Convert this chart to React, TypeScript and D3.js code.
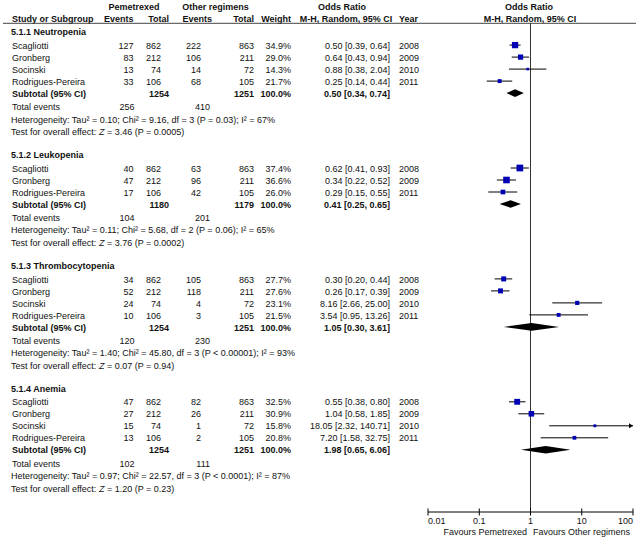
import React from "react";
import * as d3 from "d3";

const groupNames = ["5.1.1 Neutropenia", "5.1.2 Leukopenia", "5.1.3 Thrombocytopenia", "5.1.4 Anemia"];
const studyGroup = [0, 0, 0, 0, 1, 1, 1, 2, 2, 2, 2, 3, 3, 3, 3];
const studyNames = [
  "Scagliotti", "Gronberg", "Socinski", "Rodrigues-Pereira",
  "Scagliotti", "Gronberg", "Rodrigues-Pereira",
  "Scagliotti", "Gronberg", "Socinski", "Rodrigues-Pereira",
  "Scagliotti", "Gronberg", "Socinski", "Rodrigues-Pereira",
];
const pemEvents = [127, 83, 13, 33, 40, 47, 17, 34, 52, 24, 10, 47, 27, 15, 13];
const pemTotal = [862, 212, 74, 106, 862, 212, 106, 862, 212, 74, 106, 862, 212, 74, 106];
const othEvents = [222, 106, 14, 68, 63, 96, 42, 105, 118, 4, 3, 82, 26, 1, 2];
const othTotal = [863, 211, 72, 105, 863, 211, 105, 863, 211, 72, 105, 863, 211, 72, 105];
const weights = [34.9, 29.0, 14.3, 21.7, 37.4, 36.6, 26.0, 27.7, 27.6, 23.1, 21.5, 32.5, 30.9, 15.8, 20.8];
const oddsRatio = [0.5, 0.64, 0.88, 0.25, 0.62, 0.34, 0.29, 0.3, 0.26, 8.16, 3.54, 0.55, 1.04, 18.05, 7.2];
const ciLower = [0.39, 0.43, 0.38, 0.14, 0.41, 0.22, 0.15, 0.2, 0.17, 2.66, 0.95, 0.38, 0.58, 2.32, 1.58];
const ciUpper = [0.64, 0.94, 2.04, 0.44, 0.93, 0.52, 0.55, 0.44, 0.39, 25.0, 13.26, 0.8, 1.85, 140.71, 32.75];
const years = [2008, 2009, 2010, 2011, 2008, 2009, 2011, 2008, 2009, 2010, 2011, 2008, 2009, 2010, 2011];

const subPemTotal = [1254, 1180, 1254, 1254];
const subOthTotal = [1251, 1179, 1251, 1251];
const subOR = [0.5, 0.41, 1.05, 1.98];
const subLower = [0.34, 0.25, 0.3, 0.65];
const subUpper = [0.74, 0.65, 3.61, 6.06];
const totalPemEvents = [256, 104, 120, 102];
const totalOthEvents = [410, 201, 230, 111];
const heterogeneity = [
  "Heterogeneity: Tau² = 0.10; Chi² = 9.16, df = 3 (P = 0.03); I² = 67%",
  "Heterogeneity: Tau² = 0.11; Chi² = 5.68, df = 2 (P = 0.06); I² = 65%",
  "Heterogeneity: Tau² = 1.40; Chi² = 45.80, df = 3 (P < 0.00001); I² = 93%",
  "Heterogeneity: Tau² = 0.97; Chi² = 22.57, df = 3 (P < 0.0001); I² = 87%",
];
const overallZ = [
  "= 3.46 (P = 0.0005)",
  "= 3.76 (P = 0.0002)",
  "= 0.07 (P = 0.94)",
  "= 1.20 (P = 0.23)",
];
const axisTicks = [0.01, 0.1, 1, 10, 100];
const axisTickLabels = ["0.01", "0.1", "1", "10", "100"];

const W = 643;
const H = 539;
const FONT = "'Liberation Sans', Arial, sans-serif";
const FS = 9;
const TEXT = "#111";
const BLUE = "#0000b4";

const x = d3.scaleLog().domain([0.01, 100]).range([428, 633]);
const boxSize = d3.scaleLinear().domain([0, 100]).range([0, 18]);
const f2 = d3.format(".2f");
const f1 = d3.format(".1f");
const orText = (o: number, l: number, u: number) => `${f2(o)} [${f2(l)}, ${f2(u)}]`;

function buildLayout() {
  let y = 32.3;
  const groups: any[] = [];
  groupNames.forEach((g, gi) => {
    const titleY = y;
    const idx = studyGroup.map((s, i) => (s === gi ? i : -1)).filter((i) => i >= 0);
    const sy = titleY + 13.3;
    const studies = idx.map((i, k) => ({ i, y: sy + k * 12 }));
    const subY = studies[studies.length - 1].y + 12;
    const totY = subY + 13.5;
    const hetY = totY + 12.3;
    const testY = hetY + 12.3;
    groups.push({ gi, titleY, studies, subY, totY, hetY, testY });
    y = testY + 23.5;
  });
  return groups;
}
const layout = buildLayout();

const AXIS_Y = 512;
const HEADER_LINE_Y = 23.3;

function T(props: any) {
  const { children, bold, anchor, ...rest } = props;
  return (
    <text
      fontFamily={FONT}
      fontSize={FS}
      fill={TEXT}
      fontWeight={bold ? "bold" : "normal"}
      textAnchor={anchor || "start"}
      dy="0.35em"
      {...rest}
    >
      {children}
    </text>
  );
}

function CI({ lo, hi, y }: { lo: number; hi: number; y: number }) {
  const [d0, d1] = x.domain();
  const x0 = x(Math.max(lo, d0));
  const x1 = x(Math.min(hi, d1));
  return (
    <g>
      <line x1={x0} x2={x1} y1={y} y2={y} stroke="#000" strokeWidth={1} />
      {hi > d1 && (
        <path d={`M${x1},${y} L${x1 - 4},${y - 2.5} L${x1 - 4},${y + 2.5} Z`} fill="#000" />
      )}
      {lo < d0 && (
        <path d={`M${x0},${y} L${x0 + 4},${y - 2.5} L${x0 + 4},${y + 2.5} Z`} fill="#000" />
      )}
    </g>
  );
}

export default function App() {
  return (
    <svg
      width={W}
      height={H}
      viewBox={`0 0 ${W} ${H}`}
      style={{ position: "absolute", left: 0, top: 0, display: "block", background: "#fff" }}
    >
      <rect width={W} height={H} fill="#fff" />
      <T x={134} y={7.3} bold anchor="middle">Pemetrexed</T>
      <T x={215.5} y={7.3} bold anchor="middle">Other regimens</T>
      <T x={342} y={7.3} bold anchor="middle">Odds Ratio</T>
      <T x={529} y={7.3} bold anchor="middle">Odds Ratio</T>
      <T x={12} y={19} bold>Study or Subgroup</T>
      <T x={133.5} y={19} bold anchor="end">Events</T>
      <T x={169} y={19} bold anchor="end">Total</T>
      <T x={212} y={19} bold anchor="end">Events</T>
      <T x={254} y={19} bold anchor="end">Total</T>
      <T x={291} y={19} bold anchor="end">Weight</T>
      <T x={346} y={19} bold anchor="middle">M-H, Random, 95% CI</T>
      <T x={399} y={19} bold>Year</T>
      <T x={530} y={19} bold anchor="middle">M-H, Random, 95% CI</T>
      <line x1={3} x2={636} y1={HEADER_LINE_Y} y2={HEADER_LINE_Y} stroke="#444" strokeWidth={1} />

      <line x1={x(1)} x2={x(1)} y1={HEADER_LINE_Y} y2={AXIS_Y} stroke="#333" strokeWidth={1} />

      {layout.map((g: any) => (
        <g key={g.gi}>
          <T x={11} y={g.titleY} bold>{groupNames[g.gi]}</T>
          {g.studies.map(({ i, y }: any) => {
            const s = boxSize(weights[i]);
            return (
              <g key={i}>
                <T x={12} y={y}>{studyNames[i]}</T>
                <T x={133.5} y={y} anchor="end">{pemEvents[i]}</T>
                <T x={161} y={y} anchor="end">{pemTotal[i]}</T>
                <T x={201} y={y} anchor="end">{othEvents[i]}</T>
                <T x={254} y={y} anchor="end">{othTotal[i]}</T>
                <T x={291} y={y} anchor="end">{f1(weights[i]) + "%"}</T>
                <T x={390} y={y} anchor="end">{orText(oddsRatio[i], ciLower[i], ciUpper[i])}</T>
                <T x={399} y={y}>{years[i]}</T>
                <CI lo={ciLower[i]} hi={ciUpper[i]} y={y - 0.5} />
                <rect x={x(oddsRatio[i]) - s / 2} y={y - 0.5 - s / 2} width={s} height={s} fill={BLUE} />
              </g>
            );
          })}
          <T x={12} y={g.subY} bold>Subtotal (95% CI)</T>
          <T x={169} y={g.subY} bold anchor="end">{subPemTotal[g.gi]}</T>
          <T x={254} y={g.subY} bold anchor="end">{subOthTotal[g.gi]}</T>
          <T x={291} y={g.subY} bold anchor="end">100.0%</T>
          <T x={390} y={g.subY} bold anchor="end">{orText(subOR[g.gi], subLower[g.gi], subUpper[g.gi])}</T>
          <path
            d={`M${x(subLower[g.gi])},${g.subY - 0.5} L${x(subOR[g.gi])},${g.subY - 4.3} L${x(subUpper[g.gi])},${g.subY - 0.5} L${x(subOR[g.gi])},${g.subY + 3.3} Z`}
            fill="#000"
          />
          <T x={12} y={g.totY}>Total events</T>
          <T x={134.5} y={g.totY} anchor="end">{totalPemEvents[g.gi]}</T>
          <T x={210} y={g.totY} anchor="end">{totalOthEvents[g.gi]}</T>
          <T x={11} y={g.hetY}>{heterogeneity[g.gi]}</T>
          <T x={11} y={g.testY}>
            Test for overall effect: <tspan fontStyle="italic">Z</tspan> {overallZ[g.gi]}
          </T>
        </g>
      ))}

      <line x1={x(0.01)} x2={x(100)} y1={AXIS_Y} y2={AXIS_Y} stroke="#000" strokeWidth={1} />
      {axisTicks.map((t, k) => (
        <g key={t}>
          <line x1={x(t)} x2={x(t)} y1={AXIS_Y - 3.5} y2={AXIS_Y + 3.5} stroke="#000" strokeWidth={1} />
          <T
            x={x(t)}
            y={521}
            anchor={k === 0 ? "start" : k === axisTicks.length - 1 ? "end" : "middle"}
          >
            {axisTickLabels[k]}
          </T>
        </g>
      ))}
      <T x={527} y={532.3} anchor="end">Favours Pemetrexed</T>
      <T x={533} y={532.3}>Favours Other regimens</T>
    </svg>
  );
}
